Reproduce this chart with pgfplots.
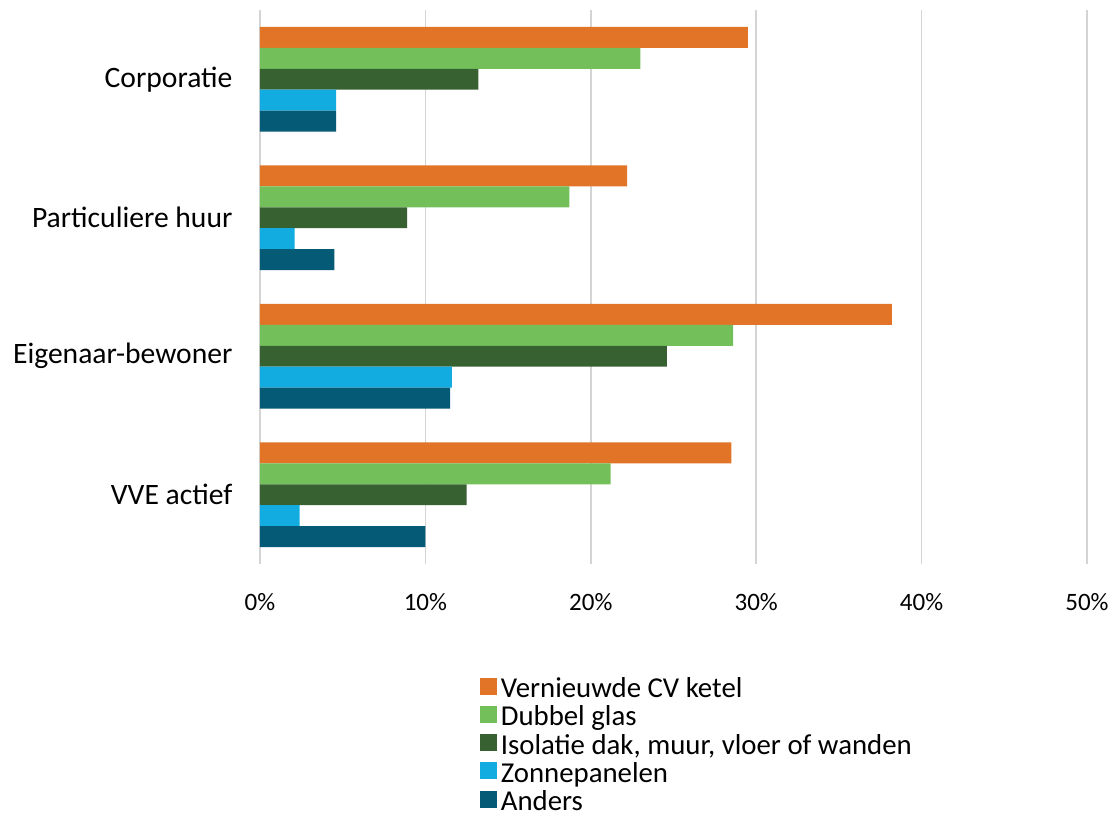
\documentclass[border=0pt]{standalone}
\usepackage{pgfplots}
\pgfplotsset{compat=1.18}
\usepackage{fontspec}
\setmainfont{Carlito}

\definecolor{cvketel}{HTML}{E17427}
\definecolor{glas}{HTML}{73C05A}
\definecolor{isolatie}{HTML}{376130}
\definecolor{zon}{HTML}{12ACE1}
\definecolor{anders}{HTML}{055A75}
\definecolor{rooster}{HTML}{D4D4D4}

\begin{document}
\begin{tikzpicture}
% 1 px of the reference = 0.5pt
\path[use as bounding box] (-130pt,-127pt) rectangle (429.5pt,282pt);
\begin{axis}[
    at={(0,0)}, anchor=south west,
    scale only axis,
    width=413.5pt,
    height=277pt,
    xbar=0pt,
    bar width=0.151,
    xmin=0, xmax=50,
    ymin=-0.5, ymax=3.5,
    y dir=reverse,
    xtick={0,10,...,50},
    xticklabel={\pgfmathprintnumber{\tick}\%},
    ytick={0,1,2,3},
    yticklabels={Corporatie,Particuliere huur,Eigenaar-bewoner,VVE actief},
    xmajorgrids=true,
    ymajorgrids=false,
    major grid style={draw=rooster, line width=0.8pt},
    axis line style={draw=none},
    tick style={draw=none},
    /pgf/number format/assume math mode=true,
    xticklabel style={font=\fontsize{12.5}{14}\selectfont, yshift=-11pt},
    yticklabel style={font=\fontsize{14.8}{17}\selectfont, xshift=-6pt},
    legend style={
        at={(0.258,-0.19)}, anchor=north west,
        draw=none, fill=none,
        font=\fontsize{14.4}{16}\selectfont,
        row sep=-1.4pt,
        legend cell align=left,
        /tikz/every even column/.append style={column sep=3pt},
    },
    legend image code/.code={
        \draw[#1, draw=none] (0cm,-0.1cm) rectangle (0.3cm,0.2cm);
    },
]
\addplot[fill=cvketel, draw=none, bar shift=-0.302] coordinates {
    (29.5,0) (22.2,1) (38.2,2) (28.5,3)
};
\addplot[fill=glas, draw=none, bar shift=-0.151] coordinates {
    (23.0,0) (18.7,1) (28.6,2) (21.2,3)
};
\addplot[fill=isolatie, draw=none, bar shift=0] coordinates {
    (13.2,0) (8.9,1) (24.6,2) (12.5,3)
};
\addplot[fill=zon, draw=none, bar shift=0.151] coordinates {
    (4.6,0) (2.1,1) (11.6,2) (2.4,3)
};
\addplot[fill=anders, draw=none, bar shift=0.302] coordinates {
    (4.6,0) (4.5,1) (11.5,2) (10.0,3)
};
\legend{Vernieuwde CV ketel, Dubbel glas, {Isolatie dak, muur, vloer of wanden}, Zonnepanelen, Anders}
\end{axis}
\end{tikzpicture}
\end{document}
